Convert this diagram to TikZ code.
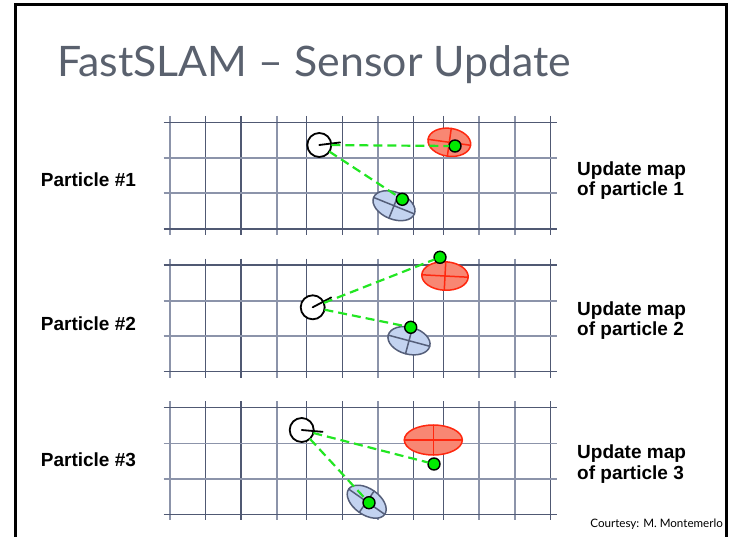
\documentclass[tikz,border=0pt]{standalone}
\usepackage{fontspec}
\setmainfont{Liberation Sans}
\newfontfamily\slidefont{Lato}
\usetikzlibrary{shapes.geometric}
\definecolor{griddark}{RGB}{80,89,115}
\definecolor{gridlight}{RGB}{140,148,170}
\definecolor{titlegrey}{RGB}{90,97,110}
\definecolor{beamgreen}{RGB}{34,230,34}
\definecolor{dotgreen}{RGB}{0,235,0}
\definecolor{redfill}{RGB}{248,135,115}
\definecolor{redline}{RGB}{255,40,15}
\definecolor{bluefill}{RGB}{195,211,240}
\definecolor{blueline}{RGB}{85,95,122}

\begin{document}
\begin{tikzpicture}[x=1pt, y=-1pt, line cap=round,
    robot/.style={circle, draw=black, fill=white, line width=1.8pt, minimum size=24pt, inner sep=0pt, outer sep=0pt},
    lmark/.style={circle, draw=black, fill=dotgreen, line width=1.4pt, minimum size=12pt, inner sep=0pt, outer sep=0pt},
    redmark/.style={ellipse, draw=redline, fill=redfill, line width=1.5pt, inner sep=0pt, outer sep=0pt},
    bluemark/.style={ellipse, draw=blueline, fill=bluefill, line width=1.5pt, inner sep=0pt, outer sep=0pt},
    beam/.style={beamgreen, line width=2.2pt, dash pattern=on 9pt off 5pt, line cap=butt},
    plabel/.style={font=\fontsize{19}{20.5}\selectfont\bfseries, inner sep=0pt, align=left}]
    \useasboundingbox (0,0) rectangle (735,537);

    % slide frame and texts
    \draw[line width=3pt, line cap=butt] (15,540) -- (15,4.5) -- (726,4.5) -- (726,540);
    \node[font=\slidefont\fontsize{42}{50}\selectfont, text=titlegrey, anchor=base west, inner sep=0pt] (title) at (57,77) {\scalebox{1.02}[1]{FastSLAM – Sensor Update}};
    \node[font=\slidefont\fontsize{11.6}{14}\selectfont, anchor=base east, inner sep=0pt] (credit) at (723,527) {Courtesy: M. Montemerlo};

    % the three map grids
    \foreach \gy in {122.3, 265, 407.7} {
        \foreach \gx in {170, 276.7, 377.7, 479, 515}
            \draw[gridlight, line width=1.8pt, line cap=butt] (\gx,\gy-6.3) -- (\gx,\gy+112.7);
        \foreach \gx in {205.7, 241, 306.7, 342.3, 413.3, 443.3, 550.7}
            \draw[griddark, line width=1.3pt, line cap=butt] (\gx,\gy-6.3) -- (\gx,\gy+112.7);
        \foreach \hy in {35.7, 71}
            \draw[gridlight, line width=1.6pt, line cap=butt] (163.5,\gy+\hy) -- (556.7,\gy+\hy);
        \foreach \hy in {0, 106.7}
            \draw[griddark, line width=1.3pt, line cap=butt] (163.5,\gy+\hy) -- (556.7,\gy+\hy);
    }

    % particle 1
    \node[plabel, anchor=base west] (p1) at (40.7,186.7) {Particle \#1};
    \node[plabel, anchor=west] (u1) at (577,180.5) {Update map\\of particle 1};
    \node[redmark, minimum width=43pt, minimum height=28pt, rotate=-8] (e1a) at (449.3,142.3) {};
    \node[bluemark, minimum width=44pt, minimum height=27pt, rotate=-22] (e1b) at (394,205.7) {};
    \draw[redline, line width=1.5pt] (e1a.north) -- (e1a.south) (e1a.west) -- (e1a.east);
    \draw[blueline, line width=1.5pt] (e1b.north) -- (e1b.south) (e1b.west) -- (e1b.east);
    \node[robot] (r1) at (319.3,145) {};
    \draw[line width=1.8pt] (r1.center) -- ++(7:21pt);
    \node[lmark] (l1a) at (455,146) {};
    \node[lmark] (l1b) at (402.3,199.3) {};
    \draw[beam] (r1) -- (l1a);
    \draw[beam] (r1) -- (l1b);

    % particle 2
    \node[plabel, anchor=base west] (p2) at (40.7,330) {Particle \#2};
    \node[plabel, anchor=west] (u2) at (577,320.5) {Update map\\of particle 2};
    \node[redmark, minimum width=46.5pt, minimum height=28.5pt, rotate=-3] (e2a) at (445,276) {};
    \node[bluemark, minimum width=43pt, minimum height=27pt, rotate=-15] (e2b) at (409,340.7) {};
    \draw[redline, line width=1.5pt] (e2a.north) -- (e2a.south) (e2a.west) -- (e2a.east);
    \draw[blueline, line width=1.5pt] (e2b.north) -- (e2b.south) (e2b.west) -- (e2b.east);
    \node[robot] (r2) at (312.7,307.3) {};
    \draw[line width=1.8pt] (r2.center) -- ++(28:21pt);
    \node[lmark] (l2a) at (440,257.3) {};
    \node[lmark] (l2b) at (410.7,327.3) {};
    \draw[beam] (r2) -- (l2a);
    \draw[beam] (r2) -- (l2b);

    % particle 3
    \node[plabel, anchor=base west] (p3) at (40.7,466) {Particle \#3};
    \node[plabel, anchor=west] (u3) at (577,464) {Update map\\of particle 3};
    \node[redmark, minimum width=58pt, minimum height=30pt] (e3a) at (433.3,440) {};
    \node[bluemark, minimum width=44pt, minimum height=26pt, rotate=-35] (e3b) at (366.7,501.7) {};
    \draw[redline, line width=1.5pt] (e3a.north) -- (e3a.south) (e3a.west) -- (e3a.east);
    \draw[blueline, line width=1.5pt] (e3b.north) -- (e3b.south) (e3b.west) -- (e3b.east);
    \node[robot] (r3) at (301.7,430) {};
    \draw[line width=1.8pt] (r3.center) -- ++(-5:21pt);
    \node[lmark] (l3a) at (434,464) {};
    \node[lmark] (l3b) at (369,502.7) {};
    \draw[beam] (r3) -- (l3a);
    \draw[beam] (r3) -- (l3b);
\end{tikzpicture}
\end{document}
